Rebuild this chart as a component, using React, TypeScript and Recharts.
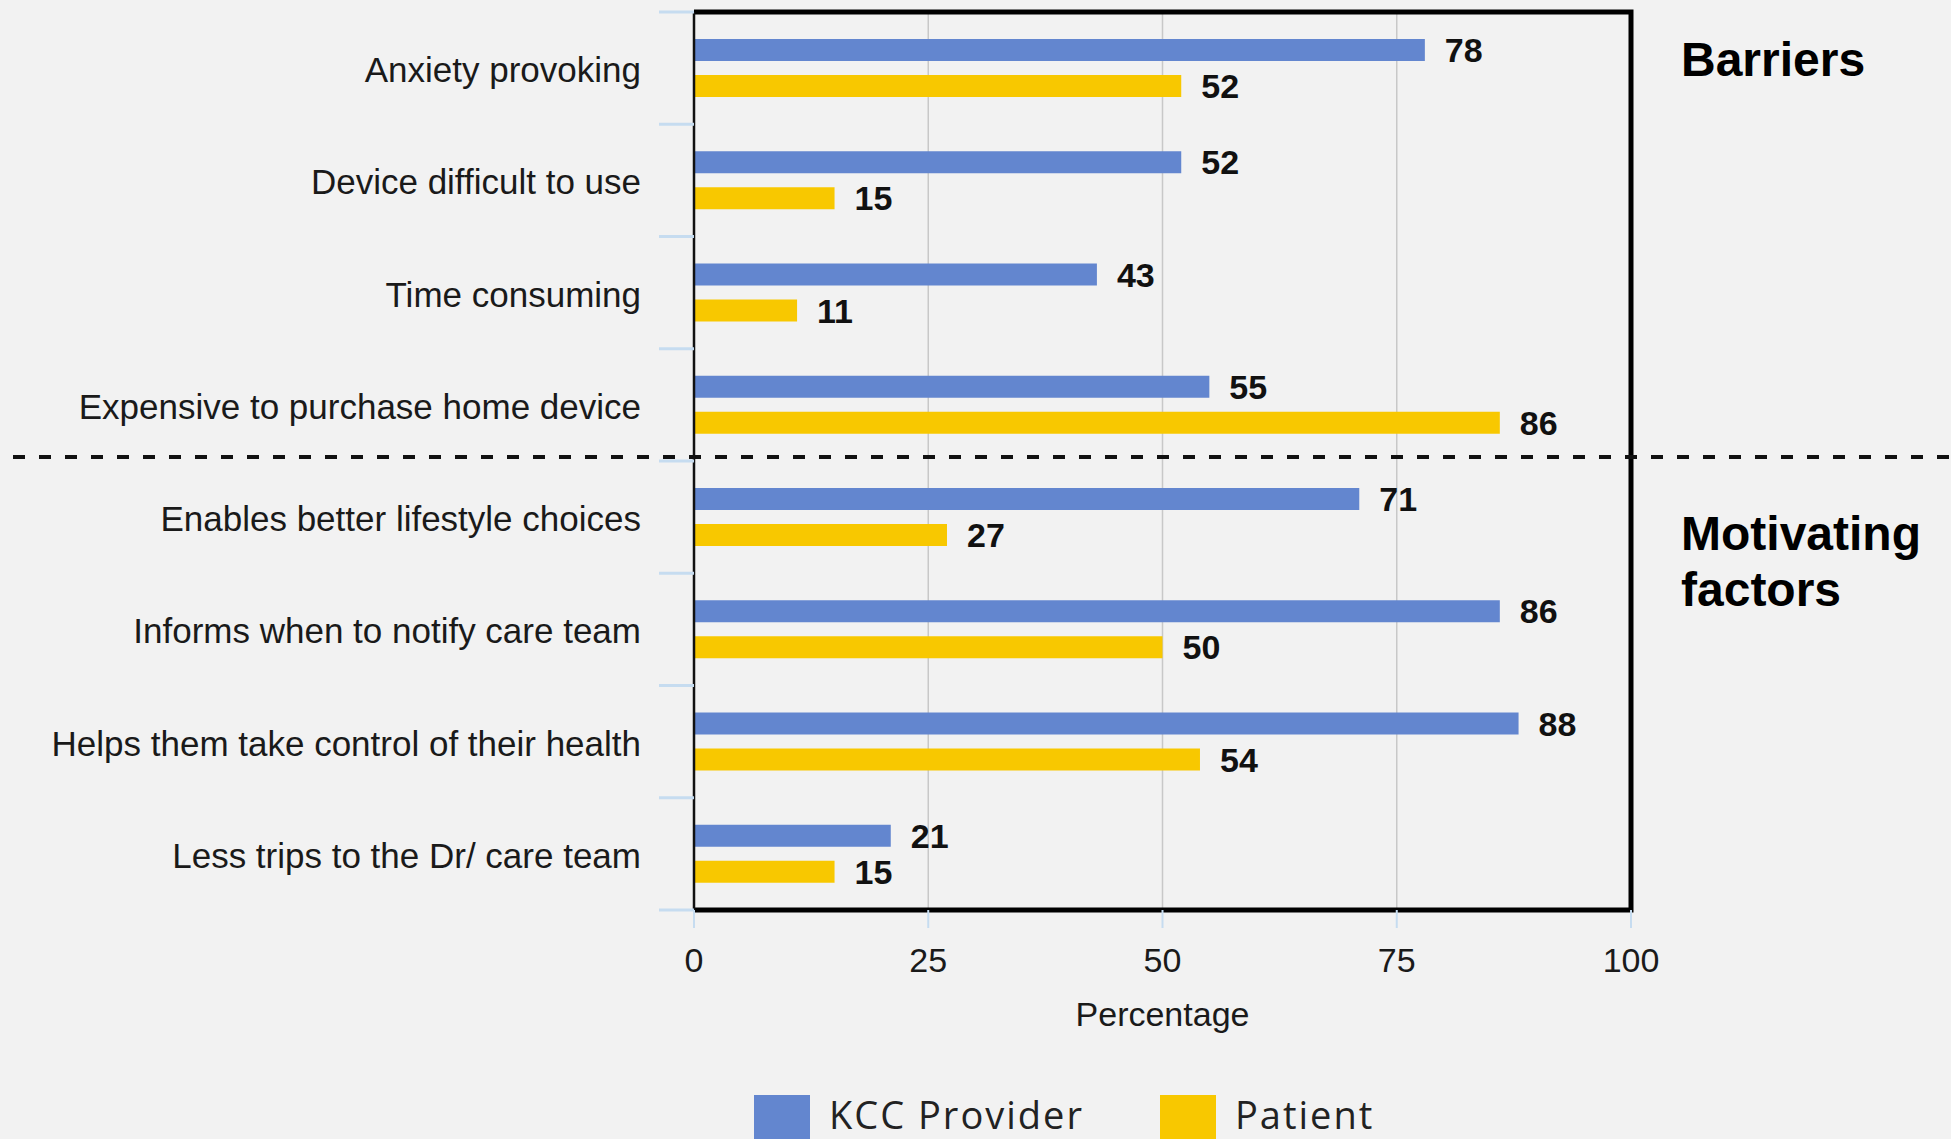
import {
  BarChart,
  Bar,
  XAxis,
  YAxis,
  CartesianGrid,
  LabelList,
  Legend,
  ReferenceArea,
  ReferenceLine,
} from "recharts";

const categories = [
  "Anxiety provoking",
  "Device difficult to use",
  "Time consuming",
  "Expensive to purchase home device",
  "Enables better lifestyle choices",
  "Informs when to notify care team",
  "Helps them take control of their health",
  "Less trips to the Dr/ care team",
];
const providerPct = [78, 52, 43, 55, 71, 86, 88, 21];
const patientPct = [52, 15, 11, 86, 27, 50, 54, 15];
const xTicks = [0, 25, 50, 75, 100];

const data = categories.map((name, i) => ({
  name,
  provider: providerPct[i],
  patient: patientPct[i],
}));

const W = 1951;
const H = 1139;
const MARGIN = { top: 12, right: 320, bottom: 99, left: 0 };
const Y_AXIS_W = 694;
const X_AXIS_H = 130;
const PLOT_W = W - MARGIN.left - MARGIN.right - Y_AXIS_W;
const PLOT_H = H - MARGIN.top - MARGIN.bottom - X_AXIS_H;
const BAND = PLOT_H / categories.length;
const Y_TICK = 35;
const Y_TICK_GAP = 18;

const FONT = '"Liberation Sans", Arial, sans-serif';
const BLUE = "#6386cf";
const YELLOW = "#f8c800";
const TICK_BLUE = "#c6dcf0";

function CategoryTick(props: any) {
  const { x, y, payload, index } = props;
  const lx1 = x + Y_TICK_GAP;
  const lx2 = lx1 + Y_TICK;
  return (
    <g>
      <text x={x} y={y} dy="0.4em" textAnchor="end" fontSize={35} fontFamily={FONT} fill="#1a1a1a">
        {payload.value}
      </text>
      <line x1={lx1} x2={lx2} y1={y - BAND / 2} y2={y - BAND / 2} stroke={TICK_BLUE} strokeWidth={3} />
      {index === categories.length - 1 && (
        <line x1={lx1} x2={lx2} y1={y + BAND / 2} y2={y + BAND / 2} stroke={TICK_BLUE} strokeWidth={3} />
      )}
    </g>
  );
}

function LegendBox(props: any) {
  const items = props.payload || [];
  return (
    <div style={{ display: "flex", gap: 76, fontFamily: '"Open Sans", sans-serif' }}>
      {items.map((it: any) => (
        <div key={it.value} style={{ display: "flex", alignItems: "flex-start", gap: 19 }}>
          <div style={{ width: 56, height: 56, background: it.color }} />
          <span style={{ fontSize: 38, lineHeight: "38px", letterSpacing: 2, color: "#222" }}>
            {it.value}
          </span>
        </div>
      ))}
    </div>
  );
}

export default function App() {
  return (
    <div
      style={{
        position: "absolute",
        left: 0,
        top: 0,
        width: W,
        height: H,
        overflow: "hidden",
        background: "#f2f2f2",
      }}
    >
      <BarChart
        width={W}
        height={H}
        data={data}
        layout="vertical"
        margin={MARGIN}
        barSize={22}
        barGap={14}
      >
        <CartesianGrid horizontal={false} stroke="#c8c8c8" strokeWidth={1.5} />
        <XAxis
          type="number"
          domain={[0, 100]}
          ticks={xTicks}
          height={X_AXIS_H}
          axisLine={false}
          tickLine={{ stroke: TICK_BLUE, strokeWidth: 2 }}
          tickSize={18}
          tickMargin={20}
          tick={{ fontSize: 34, fontFamily: FONT, fill: "#1a1a1a" }}
          label={{
            value: "Percentage",
            position: "insideBottom",
            offset: 14,
            fontSize: 34,
            fontFamily: FONT,
            fill: "#1a1a1a",
          }}
        />
        <YAxis
          type="category"
          dataKey="name"
          width={Y_AXIS_W}
          interval={0}
          tickLine={false}
          tickSize={Y_TICK}
          tickMargin={Y_TICK_GAP}
          axisLine={{ stroke: "#111", strokeWidth: 2.5 }}
          tick={(p: any) => <CategoryTick {...p} />}
        />
        <ReferenceArea
          x1={0}
          x2={100}
          fill="none"
          fillOpacity={0}
          stroke="#000"
          strokeWidth={5}
          strokeDasharray={`${2 * PLOT_W + PLOT_H} ${PLOT_H}`}
        />
        <Bar dataKey="provider" name="KCC Provider" fill={BLUE} isAnimationActive={false}>
          <LabelList
            dataKey="provider"
            position="right"
            offset={20}
            fontSize={34}
            fontWeight="bold"
            fontFamily={FONT}
            fill="#111"
          />
        </Bar>
        <Bar dataKey="patient" name="Patient" fill={YELLOW} isAnimationActive={false}>
          <LabelList
            dataKey="patient"
            position="right"
            offset={20}
            fontSize={34}
            fontWeight="bold"
            fontFamily={FONT}
            fill="#111"
          />
        </Bar>
        <ReferenceLine
          y={categories[4]}
          position="start"
          ifOverflow="visible"
          shape={(p: any) => (
            <line
              x1={13}
              x2={W}
              y1={p.y1 - 4}
              y2={p.y2 - 4}
              stroke="#111"
              strokeWidth={4}
              strokeDasharray="12 14"
            />
          )}
        />
        <Legend
          layout="horizontal"
          verticalAlign="middle"
          align="center"
          wrapperStyle={{ left: 754, top: 1095, width: 800 }}
          content={(p: any) => <LegendBox {...p} />}
        />
      </BarChart>
      <svg
        width={W}
        height={H}
        style={{ position: "absolute", left: 0, top: 0, pointerEvents: "none" }}
      >
        <g fontFamily={FONT} fontWeight="bold" fontSize={48} fill="#000">
          <text x={1681} y={76}>Barriers</text>
          <text x={1681} y={550}>Motivating</text>
          <text x={1681} y={606}>factors</text>
        </g>
      </svg>
    </div>
  );
}
